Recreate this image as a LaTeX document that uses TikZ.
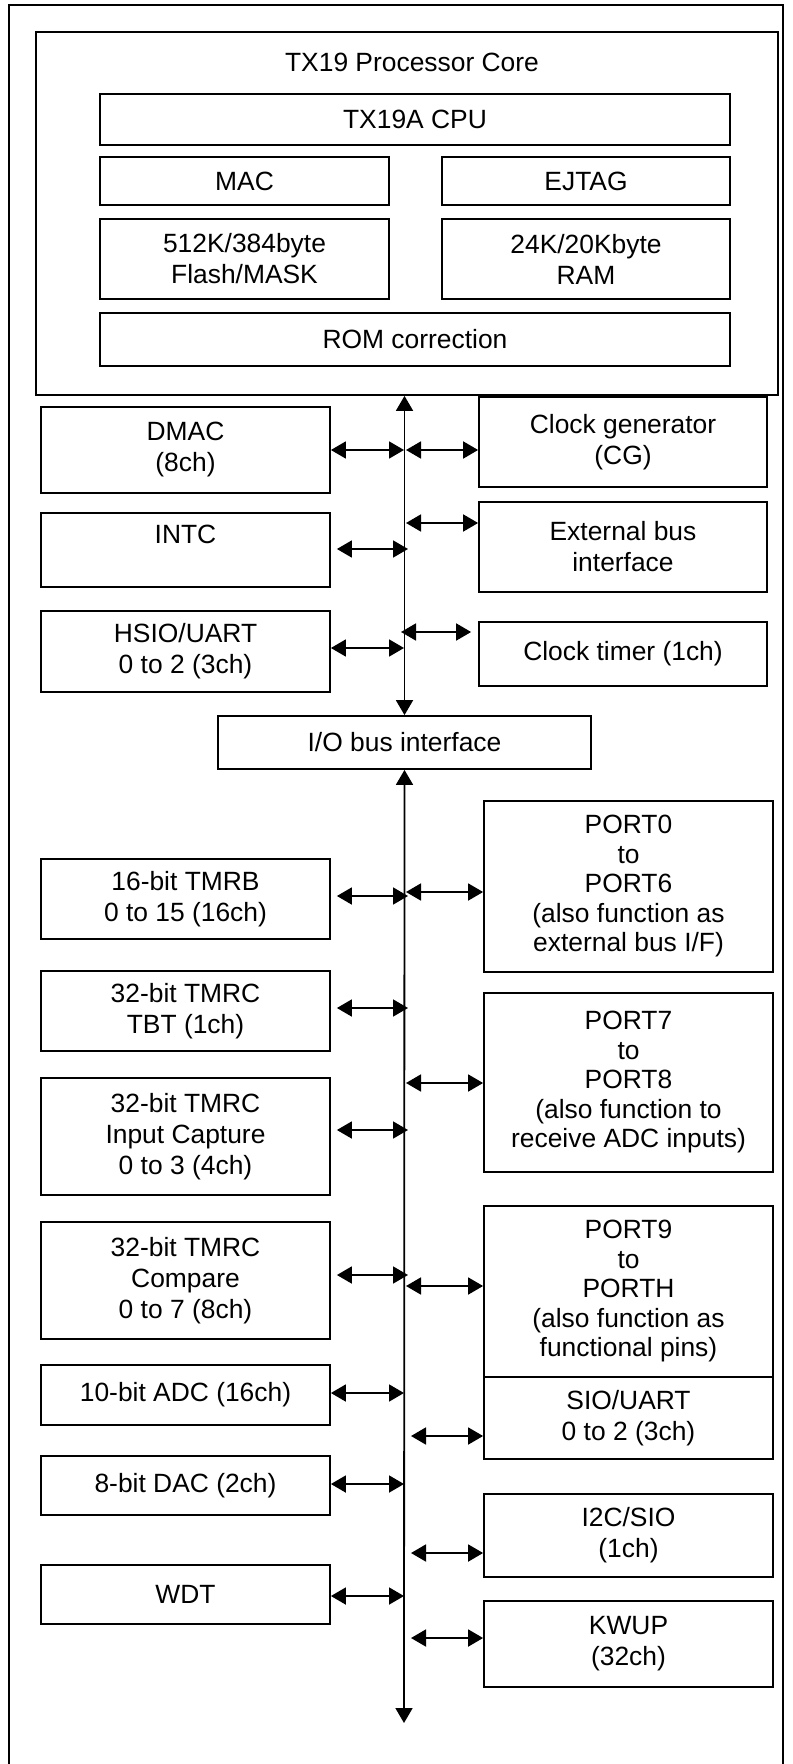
\documentclass[tikz,border=0pt]{standalone}
\usepackage{fontspec}
\setmainfont{Liberation Sans}
\usetikzlibrary{arrows.meta}

\begin{document}
\begin{tikzpicture}[x=0.5pt,y=-0.5pt]
		\tikzset{blk/.style = {draw, line width=0.9pt, inner sep=0pt, align=center, font=\fontsize{13.2}{15.5}\selectfont}}
		\tikzset{port/.style = {blk, font=\fontsize{13.2}{14.75}\selectfont}}
		\tikzset{link/.style = {<->, >={Triangle[length=7.5pt,width=8.5pt]}, line width=0.9pt}}
		\useasboundingbox (0,0) rectangle (792,1764);

		% frame
		\draw[line width=1pt] (9,1764) -- (9,5) -- (783,5) -- (783,1764);

		% processor core
		\node[blk, minimum width=371pt, minimum height=181.5pt] (core) at (407,213.5){};
		\node[font=\fontsize{13.2}{15.5}\selectfont] (coreT) at (412,62){TX19 Processor Core};
		\node[blk, minimum width=315pt, minimum height=25.5pt] (cpu) at (415,119.5){TX19A CPU};
		\node[blk, minimum width=144.5pt, minimum height=24pt] (mac) at (244.5,181){MAC};
		\node[blk, minimum width=144pt, minimum height=24pt] (ejtag) at (586,181){EJTAG};
		\node[blk, minimum width=144.5pt, minimum height=40pt] (flash) at (244.5,259){512K/384byte\\Flash/MASK};
		\node[blk, minimum width=144pt, minimum height=40pt] (ram) at (586,259){24K/20Kbyte\\RAM};
		\node[blk, minimum width=315pt, minimum height=26.5pt] (rom) at (415,339.5){ROM correction};

		% upper blocks
		\node[blk, minimum width=144.5pt, minimum height=43pt] (dmac) at (185.5,450){DMAC\\(8ch)};
		\node[blk, minimum width=144.5pt, minimum height=37pt] (intc) at (185.5,550){INTC\\\mbox{}};
		\node[blk, minimum width=144.5pt, minimum height=40.5pt] (hsio) at (185.5,651.5){HSIO/UART\\0 to 2 (3ch)};
		\node[blk, minimum width=144pt, minimum height=45pt] (cg) at (623,442){Clock generator\\(CG)};
		\node[blk, minimum width=144pt, minimum height=45pt] (ebi) at (623,547){External bus\\interface};
		\node[blk, minimum width=144pt, minimum height=32pt] (ct) at (623,654){Clock timer (1ch)};
		\node[blk, minimum width=186.5pt, minimum height=26.5pt] (io) at (404.5,742.5){I/O bus interface};

		% lower blocks, left
		\node[blk, minimum width=144.5pt, minimum height=40pt] (tmrb) at (185.5,899){16-bit TMRB\\0 to 15 (16ch)};
		\node[blk, minimum width=144.5pt, minimum height=40pt] (tbt) at (185.5,1011){32-bit TMRC\\TBT (1ch)};
		\node[blk, minimum width=144.5pt, minimum height=58.5pt] (cap) at (185.5,1136.5){32-bit TMRC\\Input Capture\\0 to 3 (4ch)};
		\node[blk, minimum width=144.5pt, minimum height=58.5pt] (cmp) at (185.5,1280.5){32-bit TMRC\\Compare\\0 to 7 (8ch)};
		\node[blk, minimum width=144.5pt, minimum height=30pt] (adc) at (185.5,1395){10-bit ADC (16ch)};
		\node[blk, minimum width=144.5pt, minimum height=29.5pt] (dac) at (185.5,1485.5){8-bit DAC (2ch)};
		\node[blk, minimum width=144.5pt, minimum height=29.5pt] (wdt) at (185.5,1594.5){WDT};

		% lower blocks, right
		\node[port, minimum width=144.5pt, minimum height=85.5pt] (p0) at (628.5,886.5){PORT0\\to\\PORT6\\(also function as\\external bus I/F)};
		\node[port, minimum width=144.5pt, minimum height=89.5pt] (p7) at (628.5,1082.5){PORT7\\to\\PORT8\\(also function to\\receive ADC inputs)};
		\node[port, minimum width=144.5pt, minimum height=85.5pt] (p9) at (628.5,1291.5){PORT9\\to\\PORTH\\(also function as\\functional pins)};
		\node[blk, minimum width=144.5pt, minimum height=41pt] (sio) at (628.5,1418){SIO/UART\\0 to 2 (3ch)};
		\node[blk, minimum width=144.5pt, minimum height=41.5pt] (i2c) at (628.5,1535.5){I2C/SIO\\(1ch)};
		\node[blk, minimum width=144.5pt, minimum height=43pt] (kwup) at (628.5,1644){KWUP\\(32ch)};

		% bus
		\coordinate (busEnd) at (404,1723);
		\draw[link] (io.north |- core.south) -- (io.north);
		\draw[link] (io.south) -- (busEnd);

		% taps on the bus, left
		\coordinate (tDMAC) at (404,450);
		\coordinate (tINTC) at (408,549);
		\coordinate (tHSIO) at (404,648);
		\coordinate (tTMRB) at (408,896);
		\coordinate (tTBT) at (408,1008);
		\coordinate (tCAP) at (408,1130);
		\coordinate (tCMP) at (408,1275);
		\coordinate (tADC) at (404,1393);
		\coordinate (tDAC) at (404,1484);
		\coordinate (tWDT) at (404,1596);

		\draw[link] (dmac.east |- tDMAC) -- (tDMAC);
		\draw[link, shorten <=3pt] (intc.east |- tINTC) -- (tINTC);
		\draw[link] (hsio.east |- tHSIO) -- (tHSIO);
		\draw[link, shorten <=3pt] (tmrb.east |- tTMRB) -- (tTMRB);
		\draw[link, shorten <=3pt] (tbt.east |- tTBT) -- (tTBT);
		\draw[link, shorten <=3pt] (cap.east |- tCAP) -- (tCAP);
		\draw[link, shorten <=3pt] (cmp.east |- tCMP) -- (tCMP);
		\draw[link] (adc.east |- tADC) -- (tADC);
		\draw[link] (dac.east |- tDAC) -- (tDAC);
		\draw[link] (wdt.east |- tWDT) -- (tWDT);

		% taps on the bus, right
		\coordinate (tCG) at (406,450);
		\coordinate (tEBI) at (406,523);
		\coordinate (tCT) at (401,632);
		\coordinate (tP0) at (406,892);
		\coordinate (tP7) at (406,1083);
		\coordinate (tP9) at (406,1286);
		\coordinate (tSIO) at (411,1436);
		\coordinate (tI2C) at (411,1553);
		\coordinate (tKWUP) at (411,1638);

		\draw[link] (tCG) -- (tCG -| cg.west);
		\draw[link] (tEBI) -- (tEBI -| ebi.west);
		\draw[link, shorten >=3.5pt] (tCT) -- (tCT -| ct.west);
		\draw[link] (tP0) -- (tP0 -| p0.west);
		\draw[link] (tP7) -- (tP7 -| p7.west);
		\draw[link] (tP9) -- (tP9 -| p9.west);
		\draw[link] (tSIO) -- (tSIO -| sio.west);
		\draw[link] (tI2C) -- (tI2C -| i2c.west);
		\draw[link] (tKWUP) -- (tKWUP -| kwup.west);
	\end{tikzpicture}
\end{document}
